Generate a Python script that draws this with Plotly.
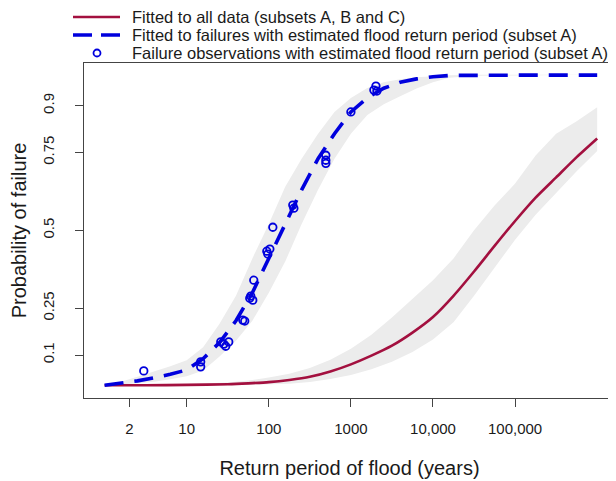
import plotly.graph_objects as go

# ---- data ----
# Fitted curve to failures with estimated flood return period (subset A)
blue_T = [1, 1.585, 2.512, 3.981, 6.31, 10, 15.85, 25.12, 39.81, 63.1, 100, 158.5, 251.2,
          398.1, 631, 1000, 1585, 2512, 3981, 6310, 10000, 15850, 31620, 100000, 316200, 1000000]
blue_fit = [0.003, 0.009, 0.017, 0.027, 0.038, 0.052, 0.088, 0.14, 0.21, 0.30, 0.41, 0.52, 0.63,
            0.73, 0.81, 0.88, 0.925, 0.956, 0.975, 0.986, 0.993, 0.997, 0.998, 0.998, 0.998, 0.998]
blue_hi = [0.004, 0.014, 0.03, 0.046, 0.064, 0.083, 0.125, 0.20, 0.29, 0.41, 0.52, 0.64, 0.73,
           0.81, 0.88, 0.925, 0.957, 0.975, 0.985, 0.991, 0.995, 0.998, 0.999, 0.999, 0.999, 0.999]
blue_lo = [0.002, 0.005, 0.009, 0.014, 0.022, 0.032, 0.05, 0.095, 0.146, 0.21, 0.30, 0.40, 0.52,
           0.63, 0.73, 0.81, 0.87, 0.905, 0.93, 0.955, 0.975, 0.99, 0.996, 0.997, 0.997, 0.997]

# Fitted curve to all data (subsets A, B and C)
red_T = [1, 3.162, 10, 31.62, 56.23, 100, 177.8, 316.2, 562.3, 1000, 1778, 3162, 5623, 10000,
         17780, 31620, 56230, 100000, 177800, 316200, 562300, 1000000]
red_fit = [0.003, 0.003, 0.004, 0.006, 0.009, 0.013, 0.02, 0.03, 0.047, 0.07, 0.098, 0.13, 0.172,
           0.222, 0.29, 0.368, 0.45, 0.53, 0.605, 0.67, 0.735, 0.795]
red_hi = [0.004, 0.005, 0.007, 0.012, 0.018, 0.028, 0.04, 0.058, 0.085, 0.12, 0.165, 0.22, 0.28,
          0.34, 0.41, 0.50, 0.58, 0.65, 0.74, 0.81, 0.85, 0.895]
red_lo = [0.002, 0.002, 0.002, 0.003, 0.004, 0.005, 0.008, 0.013, 0.023, 0.036, 0.054, 0.078, 0.11,
          0.15, 0.205, 0.29, 0.38, 0.47, 0.55, 0.62, 0.69, 0.755]

# Failure observations with estimated flood return period (subset A)
obs_T = [3.0, 14.8, 14.8, 26, 28.3, 32.5, 29.9, 48.2, 50.9, 58.6, 60.3, 63.8, 65.6,
         94.6, 97.3, 103, 112, 196, 202, 495, 495, 495, 1000, 2018, 2075, 1905]
obs_p = [0.049, 0.078, 0.062, 0.142, 0.135, 0.142, 0.128, 0.212, 0.209, 0.282, 0.289, 0.276, 0.340,
         0.433, 0.424, 0.440, 0.510, 0.581, 0.571, 0.741, 0.725, 0.715, 0.880, 0.963, 0.947, 0.950]

x_ticks = [2, 10, 100, 1000, 10000, 100000]
x_ticklabels = ["2", "10", "100", "1000", "10,000", "100,000"]
y_ticks = [0.1, 0.25, 0.5, 0.75, 0.9]
y_ticklabels = ["0.1", "0.25", "0.5", "0.75", "0.9"]

legend_labels = ["Fitted to all data (subsets A, B and C)",
                 "Fitted to failures with estimated flood return period (subset A)",
                 "Failure observations with estimated flood return period (subset A)"]

RED = "#A3103F"
BLUE = "#0000DD"
BAND = "rgb(236,236,236)"
FONT = "Liberation Sans, Arial, sans-serif"
TXT = "#1a1a1a"

# the page body adds an 8 px offset; the figure fills the rest of the window
OFF = 8
W, H = 616 - OFF, 481 - OFF
ML, MR, MT, MB = 84 - OFF, 1, 63 - OFF, 83
PW, PH = W - ML - MR, H - MT - MB


def px_x(px):
    """page pixel -> paper x"""
    return (px - OFF - ML) / PW


def px_y(py):
    """page pixel -> paper y"""
    return (H - MB - (py - OFF)) / PH


fig = go.Figure()

# confidence bands
fig.add_trace(go.Scatter(x=blue_T + blue_T[::-1], y=blue_hi + blue_lo[::-1], fill="toself",
                         fillcolor=BAND, line=dict(width=0), mode="lines",
                         showlegend=False, hoverinfo="skip"))
fig.add_trace(go.Scatter(x=red_T + red_T[::-1], y=red_hi + red_lo[::-1], fill="toself",
                         fillcolor=BAND, line=dict(width=0), mode="lines",
                         showlegend=False, hoverinfo="skip"))

fig.add_trace(go.Scatter(x=red_T, y=red_fit, mode="lines", line_shape="spline",
                         line=dict(color=RED, width=2.6, smoothing=0.6),
                         name=legend_labels[0], showlegend=False))
fig.add_trace(go.Scatter(x=blue_T, y=blue_fit, mode="lines",
                         line=dict(color=BLUE, width=3.6, dash="19px,11px"),
                         name=legend_labels[1], showlegend=False))
fig.add_trace(go.Scatter(x=obs_T, y=obs_p, mode="markers",
                         marker=dict(symbol="circle-open", size=7.5, color=BLUE,
                                     line=dict(width=1.8, color=BLUE)),
                         name=legend_labels[2], showlegend=False))

# legend drawn by hand (positions in paper coordinates)
leg_rows = [17, 35, 53]
shapes = [
    dict(type="line", xref="paper", yref="paper", x0=px_x(73), x1=px_x(120),
         y0=px_y(leg_rows[0]), y1=px_y(leg_rows[0]), line=dict(color=RED, width=2.6)),
    dict(type="line", xref="paper", yref="paper", x0=px_x(73), x1=px_x(120),
         y0=px_y(leg_rows[1]), y1=px_y(leg_rows[1]),
         line=dict(color=BLUE, width=3.6, dash="19px,9px")),
    dict(type="circle", xref="paper", yref="paper", x0=px_x(93.5), x1=px_x(100.5),
         y0=px_y(leg_rows[2] + 3.5), y1=px_y(leg_rows[2] - 3.5),
         line=dict(color=BLUE, width=1.8)),
]
annotations = [
    dict(xref="paper", yref="paper", x=px_x(131), y=px_y(r), text=t, showarrow=False,
         xanchor="left", yanchor="middle", borderpad=0,
         font=dict(size=16.5, family=FONT, color=TXT))
    for r, t in zip(leg_rows, legend_labels)
]

fig.update_layout(
    width=W, height=H,
    margin=dict(l=ML, r=MR, t=MT, b=MB),
    paper_bgcolor="white", plot_bgcolor="white",
    font=dict(family=FONT, color=TXT, size=15),
    showlegend=False,
    shapes=shapes,
    annotations=annotations,
)
fig.update_xaxes(
    type="log", range=[-0.251, 6.217],
    tickmode="array", tickvals=x_ticks, ticktext=x_ticklabels,
    ticks="outside", ticklen=8, tickcolor="#444", tickwidth=1,
    showline=True, linecolor="#444", linewidth=1, mirror=True,
    showgrid=False, zeroline=False,
    tickfont=dict(size=15, family=FONT, color=TXT),
    ticklabelstandoff=9,
    title=dict(text="Return period of flood (years)", font=dict(size=20, family=FONT, color=TXT),
               standoff=24),
)
fig.update_yaxes(
    range=[-0.038, 1.037],
    tickmode="array", tickvals=y_ticks, ticktext=y_ticklabels, tickangle=-90,
    ticks="outside", ticklen=8, tickcolor="#444", tickwidth=1,
    showline=True, linecolor="#444", linewidth=1, mirror=True,
    showgrid=False, zeroline=False,
    tickfont=dict(size=15, family=FONT, color=TXT),
    ticklabelstandoff=15,
    title=dict(text="Probability of failure", font=dict(size=20, family=FONT, color=TXT),
               standoff=8),
)

fig.write_html("out.html")
